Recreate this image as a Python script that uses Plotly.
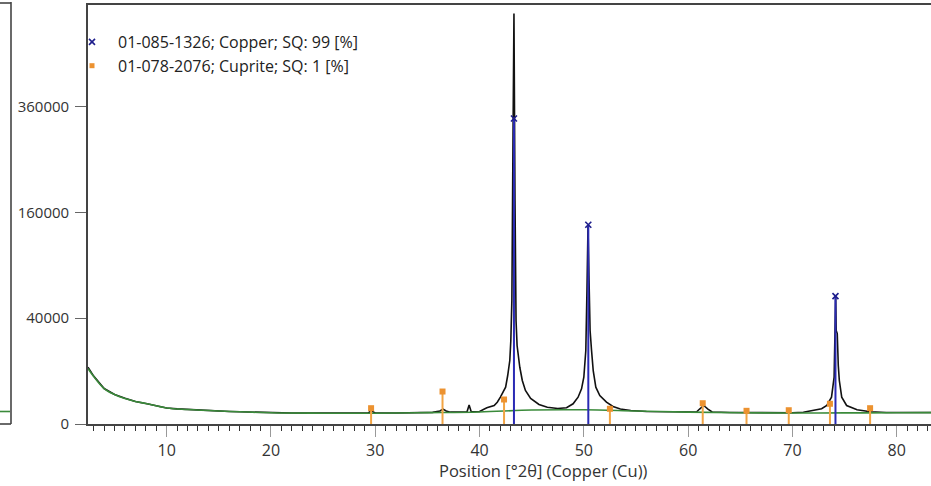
import numpy as np
import plotly.graph_objects as go

# ---------------- data ----------------
# measured pattern (2theta, counts)
scan_2theta = [2.45, 3.0, 4.0, 5.0, 6.0, 7.0, 8.0, 9.0, 10.0, 11.0, 12.0, 13.0, 14.0, 15.0,
               16.0, 17.0, 18.0, 19.0, 20.0, 22.0, 24.0, 26.0, 28.0, 29.3, 29.6, 30.0, 32.0,
               34.0, 35.5, 36.2, 36.5, 36.8, 37.2, 38.0, 38.8, 39.0, 39.2, 40.0, 40.7, 41.4,
               41.7, 42.0, 42.3, 42.5, 42.7, 42.9, 43.0, 43.1, 43.2, 43.3, 43.4, 43.5, 43.6,
               43.86, 44.1, 44.4, 44.9, 45.7, 46.5, 47.5, 48.34, 48.97, 49.45, 49.78, 50.0,
               50.19, 50.3, 50.4, 50.5, 50.6, 50.74, 50.9, 51.15, 51.53, 52.17, 52.8, 53.5,
               54.5, 56.0, 58.0, 60.0, 60.8, 61.1, 61.5, 61.9, 62.3, 64.0, 66.0, 68.0, 70.0,
               71.05, 72.0, 72.8, 73.3, 73.75, 74.0, 74.05, 74.1, 74.15, 74.2, 74.3, 74.4,
               74.5, 74.73, 75.2, 76.2, 77.48, 79.0, 81.0, 83.3]
scan_counts = [11500, 8200, 4500, 3100, 2350, 1800, 1500, 1150, 920, 820, 750, 690, 640, 600,
               560, 530, 500, 470, 450, 430, 420, 415, 415, 420, 620, 430, 430,
               450, 480, 600, 790, 600, 500, 510, 530, 1300, 540, 560, 940, 1223,
               1700, 2570, 3770, 4840, 8400, 14400, 24900, 54600, 267000, 602000, 178500, 38300, 22000,
               11500, 6760, 4010, 2320, 1360, 1010, 860, 938, 1460, 2570, 4430, 7830,
               19300, 63700, 139400, 73500, 31200, 19300, 10200, 4840, 2900, 1700, 1095, 800,
               650, 558, 515, 489, 515, 800, 1223, 800, 515, 472, 448, 432, 448,
               497, 650, 826, 1223, 2570, 7830, 19300, 54600, 58100, 31200, 29200, 12200,
               6760, 2570, 1223, 720, 532, 472, 448, 472]

# fitted background
bg_2theta = [2.45, 3.0, 4.0, 5.0, 6.0, 7.0, 8.0, 10.0, 12.0, 15.0, 20.0, 25.0, 30.0, 35.0,
             40.0, 45.0, 50.0, 55.0, 60.0, 65.0, 70.0, 75.0, 80.0, 83.3]
bg_counts = [11000, 8060, 4500, 3110, 2320, 1810, 1500, 915, 750, 604, 448, 417, 417, 460,
             520, 700, 720, 604, 500, 450, 432, 440, 448, 460]

# reference patterns
copper_name = "01-085-1326; Copper; SQ: 99 [%]"
copper_pos = [43.30, 50.43, 74.13]
copper_int = [333500, 141800, 58400]

cuprite_name = "01-078-2076; Cuprite; SQ: 1 [%]"
cuprite_pos = [29.6, 36.45, 42.35, 52.5, 61.4, 65.6, 69.65, 73.6, 77.45]
cuprite_int = [893, 3770, 2145, 826, 1545, 622, 678, 1458, 893]

y_tick_values = [0, 40000, 160000, 360000]
y_tick_labels = ["0", "40000", "160000", "360000"]
x_tick_values = [10, 20, 30, 40, 50, 60, 70, 80]

x_title = "Position [°2θ] (Copper (Cu))"

# ---------------- styling ----------------
FONT = "Open Sans"
C_SCAN = "#111111"
C_BG = "#3a8a3a"
C_CU = "#2a2ab4"
C_CU_MK = "#1e1e8c"
C_CUP = "#f2a444"
C_CUP_MK = "#ec9230"
C_AXIS = "#444444"

sq = np.sqrt  # square-root intensity scale


def sticks(pos, inten):
    xs, ys = [], []
    for p, i in zip(pos, inten):
        xs += [p, p, None]
        ys += [0, float(sq(i)), None]
    return xs, ys


fig = go.Figure()

fig.add_trace(go.Scatter(x=scan_2theta, y=sq(np.array(scan_counts, float)), mode="lines",
                         line=dict(color=C_SCAN, width=1.6), showlegend=False, hoverinfo="skip"))
fig.add_trace(go.Scatter(x=bg_2theta, y=sq(np.array(bg_counts, float)), mode="lines",
                         line=dict(color=C_BG, width=1.6, shape="spline"), showlegend=False,
                         hoverinfo="skip"))

cx, cy = sticks(cuprite_pos, cuprite_int)
fig.add_trace(go.Scatter(x=cx, y=cy, mode="lines", line=dict(color=C_CUP, width=2),
                         showlegend=False, hoverinfo="skip"))
fig.add_trace(go.Scatter(x=cuprite_pos, y=sq(np.array(cuprite_int, float)), mode="markers",
                         marker=dict(symbol="square", size=6, color=C_CUP_MK),
                         showlegend=False, hoverinfo="skip"))

ux, uy = sticks(copper_pos, copper_int)
fig.add_trace(go.Scatter(x=ux, y=uy, mode="lines", line=dict(color=C_CU, width=2),
                         showlegend=False, hoverinfo="skip"))
fig.add_trace(go.Scatter(x=copper_pos, y=sq(np.array(copper_int, float)), mode="markers",
                         marker=dict(symbol="x-thin", size=6, color=C_CU_MK,
                                     line=dict(width=1.6, color=C_CU_MK)),
                         showlegend=False, hoverinfo="skip"))

# legend entries
fig.add_trace(go.Scatter(x=[None], y=[None], mode="markers", name=copper_name,
                         marker=dict(symbol="x-thin", size=6, color=C_CU_MK,
                                     line=dict(width=1.6, color=C_CU_MK))))
fig.add_trace(go.Scatter(x=[None], y=[None], mode="markers", name=cuprite_name,
                         marker=dict(symbol="square", size=5, color=C_CUP_MK)))

# geometry
L, T, R, B = 88, 5, 0, 62
W, H = 931, 486
pw = W - L - R
ph = H - T - B


def px_x(p):
    return (p - L) / pw


def px_y(p):
    return (H - B - p) / ph


fig.update_layout(
    width=W, height=H,
    margin=dict(l=L, r=R, t=T, b=B, pad=0),
    paper_bgcolor="white", plot_bgcolor="white",
    font=dict(family=FONT, size=16, color="#333333"),
    showlegend=True,
    legend=dict(x=px_x(66), y=px_y(25), xanchor="left", yanchor="top",
                bgcolor="rgba(0,0,0,0)", borderwidth=0,
                font=dict(family=FONT, size=16, color="#222222"),
                itemwidth=42, tracegroupgap=0),
    xaxis=dict(range=[2.455, 83.29], showgrid=False, zeroline=False,
               showline=True, linecolor=C_AXIS, linewidth=1.6, mirror=True,
               tickmode="array", tickvals=x_tick_values,
               ticks="outside", ticklen=11, tickcolor="#999999", tickwidth=1,
               minor=dict(dtick=1, tick0=0, ticks="outside", ticklen=5,
                          tickcolor="#333333", tickwidth=1, showgrid=False),
               tickfont=dict(family=FONT, size=16, color="#333333")),
    yaxis=dict(range=[0, 792], showgrid=False, zeroline=False,
               showline=True, linecolor=C_AXIS, linewidth=1.6,
               tickmode="array", tickvals=[float(sq(v)) for v in y_tick_values],
               ticktext=y_tick_labels, ticks="outside", ticklen=11,
               tickcolor="#666666", tickwidth=1, ticklabelstandoff=3,
               tickfont=dict(family=FONT, size=15, color="#333333")),
)

fig.add_annotation(text=x_title, xref="paper", yref="paper", x=px_x(543), y=px_y(470),
                   xanchor="center", yanchor="middle", showarrow=False,
                   font=dict(family=FONT, size=16.5, color="#333333"))

# fragment of the neighbouring panel at the far left
fig.add_shape(type="line", xref="paper", yref="paper", x0=px_x(11), x1=px_x(11),
              y0=px_y(424), y1=px_y(2), line=dict(color=C_AXIS, width=1.6))
fig.add_shape(type="line", xref="paper", yref="paper", x0=px_x(-2), x1=px_x(11),
              y0=px_y(424), y1=px_y(424), line=dict(color=C_AXIS, width=1.6))
fig.add_shape(type="line", xref="paper", yref="paper", x0=px_x(-2), x1=px_x(11),
              y0=px_y(3), y1=px_y(3), line=dict(color=C_AXIS, width=1.6))
fig.add_shape(type="line", xref="paper", yref="paper", x0=px_x(-2), x1=px_x(10),
              y0=px_y(411.5), y1=px_y(411.5), line=dict(color=C_BG, width=1.6))

fig.write_html("out.html")
